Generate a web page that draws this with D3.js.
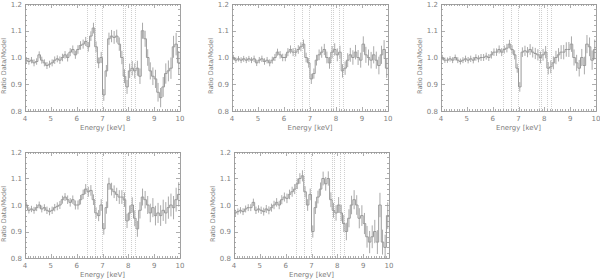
<!DOCTYPE html>
<html lang="en">
  <head>
    <meta charset="utf-8">
    <title>Ratio Data/Model</title>
    <script src="https://d3js.org/d3.v7.min.js"></script>
    <style type="text/css">
      body, html {
        margin: 0;
        padding: 0;
        background: #fff;
      }
      text {
        font-family: "DejaVu Sans", sans-serif;
        fill: #808080;
      }
    </style>
  </head>
  <body>
    <script type="text/javascript">

      var w = 600;
      var h = 279;

      // bin low edges, 0.1 keV wide, 4.0 .. 9.9
      var binLo = d3.range(40, 100).map(function(d){ return d / 10; });

      // line energies (keV) marked with dotted verticals
      var lineE = [6.4, 6.7, 6.97, 7.8, 7.88, 8.1, 8.25];

      var xTicks = [4, 5, 6, 7, 8, 9, 10];
      var yTicks = [0.8, 0.9, 1.0, 1.1, 1.2];

      var ratio1 = [0.99,0.985,0.99,0.98,0.985,1.01,0.99,0.98,0.97,0.975,
                    0.98,0.99,0.995,0.99,1.0,1.01,1.0,1.02,1.03,1.01,
                    1.03,1.045,1.05,1.06,1.04,1.08,1.11,1.04,0.98,1.0,
                    0.86,0.95,1.07,1.08,1.075,1.08,1.05,1.0,0.93,0.89,
                    0.95,0.96,0.95,0.96,0.93,1.1,1.07,1.0,0.95,0.93,
                    0.92,0.87,0.85,0.89,0.94,0.95,0.96,1.04,1.05,0.98];
      var err1 = [.012,.012,.012,.013,.012,.013,.013,.013,.013,.013,
                  .013,.014,.013,.014,.014,.014,.015,.015,.015,.015,
                  .016,.016,.017,.017,.018,.018,.02,.02,.02,.021,
                  .022,.022,.023,.023,.024,.024,.025,.025,.026,.026,
                  .027,.027,.028,.028,.029,.03,.03,.031,.032,.033,
                  .034,.035,.036,.037,.038,.039,.04,.041,.042,.044];

      var ratio2 = [1.0,0.99,0.995,0.99,0.995,0.99,0.995,0.99,0.995,0.98,
                    0.99,0.995,0.985,0.99,0.98,0.99,1.0,1.02,1.01,1.0,
                    1.0,1.02,1.03,1.02,1.02,1.03,1.04,1.05,1.0,0.98,
                    0.92,0.94,0.99,1.01,1.02,1.03,1.0,0.98,1.02,1.03,
                    1.01,1.02,0.95,0.96,0.99,1.01,1.0,1.02,1.0,0.99,
                    1.05,1.01,1.0,0.99,1.01,0.99,0.97,1.01,1.03,0.96];
      var err2 = [.01,.01,.01,.011,.011,.011,.011,.011,.012,.012,
                  .012,.012,.012,.012,.013,.013,.013,.013,.014,.014,
                  .014,.015,.015,.015,.016,.016,.017,.017,.018,.018,
                  .019,.019,.02,.02,.021,.021,.022,.022,.023,.023,
                  .024,.024,.025,.025,.026,.026,.027,.027,.028,.028,
                  .029,.03,.03,.031,.032,.032,.033,.034,.035,.036];

      var ratio3 = [1.0,0.99,0.99,0.995,0.99,1.0,0.99,0.985,0.99,0.995,
                    0.99,0.995,0.99,1.0,0.995,1.0,1.0,1.005,1.0,1.01,
                    1.02,1.02,1.03,1.02,1.03,1.035,1.05,1.03,1.01,0.96,
                    0.89,1.02,1.025,1.02,1.03,1.02,1.015,1.01,1.0,1.01,
                    1.02,0.96,0.965,0.98,1.0,1.01,1.02,1.02,1.03,1.03,
                    1.05,1.0,0.98,0.96,1.0,0.97,1.05,1.04,0.99,1.03];
      var err3 = [.01,.01,.01,.01,.011,.011,.011,.011,.011,.012,
                  .012,.012,.012,.012,.013,.013,.013,.013,.013,.014,
                  .014,.014,.015,.015,.015,.016,.016,.016,.017,.017,
                  .018,.018,.019,.019,.02,.02,.021,.021,.022,.022,
                  .023,.023,.024,.024,.025,.025,.026,.027,.027,.028,
                  .029,.03,.03,.031,.032,.033,.034,.035,.036,.037];

      var ratio4 = [1.0,0.98,0.985,0.98,0.99,1.0,0.985,0.99,0.98,0.975,
                    0.98,0.99,0.995,1.0,1.02,1.03,1.02,1.01,1.02,1.0,
                    1.0,1.02,1.04,1.06,1.05,1.055,1.02,0.97,0.96,1.0,
                    0.91,0.99,1.08,1.06,1.05,1.04,1.03,1.03,1.02,0.94,
                    0.97,1.0,0.95,0.91,0.98,1.03,1.02,1.0,0.97,0.99,
                    0.96,0.97,0.96,0.98,0.97,0.99,1.0,0.99,1.02,1.04];
      var err4 = [.012,.012,.012,.013,.013,.013,.013,.013,.014,.014,
                  .014,.014,.015,.015,.015,.015,.016,.016,.016,.017,
                  .017,.018,.018,.019,.019,.02,.02,.021,.021,.022,
                  .022,.023,.023,.024,.024,.025,.026,.026,.027,.027,
                  .028,.029,.03,.03,.031,.032,.033,.034,.035,.036,
                  .037,.038,.039,.04,.041,.042,.043,.044,.045,.046];

      var ratio5 = [0.97,0.975,0.98,0.975,0.985,0.99,0.99,1.01,0.98,0.985,
                    0.98,0.975,0.985,0.98,0.99,1.0,1.01,1.0,1.02,1.03,
                    1.025,1.04,1.05,1.06,1.08,1.1,1.11,1.05,1.0,1.04,
                    0.9,0.99,1.03,1.06,1.1,1.08,1.1,1.02,0.98,0.97,
                    1.0,0.97,0.93,0.9,0.95,1.0,1.02,1.0,0.95,0.96,
                    0.93,0.88,0.86,0.88,0.9,0.86,1.0,0.86,0.84,0.96];
      var err5 = [.012,.012,.012,.013,.013,.013,.013,.014,.014,.014,
                  .014,.015,.015,.015,.015,.016,.016,.016,.017,.017,
                  .018,.018,.019,.019,.02,.02,.021,.021,.022,.022,
                  .023,.024,.024,.025,.026,.026,.027,.028,.028,.029,
                  .03,.031,.032,.033,.034,.035,.036,.037,.038,.039,
                  .04,.041,.042,.043,.044,.045,.046,.047,.048,.05];

      // panel frames (x0, x1, y0, y1 in px)
      var panels = [
        {x0: 25,  x1: 180, y0: 4,   y1: 111, v: ratio1, e: err1},
        {x0: 232, x1: 388, y0: 4,   y1: 111, v: ratio2, e: err2},
        {x0: 441, x1: 596, y0: 4,   y1: 111, v: ratio3, e: err3},
        {x0: 25,  x1: 180, y0: 152, y1: 258, v: ratio4, e: err4},
        {x0: 234, x1: 389, y0: 152, y1: 258, v: ratio5, e: err5}
      ];

      var svg = d3.select("body")
        .append("svg")
        .attr("width", w)
        .attr("height", h);

      panels.forEach(function(p, pi){

        var x = d3.scaleLinear().domain([4, 10]).range([p.x0, p.x1]);
        var y = d3.scaleLinear().domain([0.8, 1.2]).range([p.y1, p.y0]);

        var g = svg.append("g").attr("class", "panel");

        g.append("clipPath").attr("id", "clip" + pi)
          .append("rect")
          .attr("x", p.x0).attr("y", p.y0)
          .attr("width", p.x1 - p.x0).attr("height", p.y1 - p.y0);

        // dotted line markers
        g.selectAll("line.eline")
          .data(lineE)
          .enter()
          .append("line")
          .attr("class", "eline")
          .attr("x1", function(d){ return Math.round(x(d)) + 0.5; })
          .attr("x2", function(d){ return Math.round(x(d)) + 0.5; })
          .attr("y1", p.y0).attr("y2", p.y1)
          .style("stroke", "#c4c4c4")
          .style("stroke-width", 0.8)
          .style("stroke-dasharray", "1,1");

        var data = binLo.map(function(d, i){ return {lo: d, v: p.v[i], e: p.e[i]}; });

        var dg = g.append("g").attr("clip-path", "url(#clip" + pi + ")");

        // error bars
        dg.selectAll("line.err")
          .data(data)
          .enter()
          .append("line")
          .attr("class", "err")
          .attr("x1", function(d){ return x(d.lo + 0.05); })
          .attr("x2", function(d){ return x(d.lo + 0.05); })
          .attr("y1", function(d){ return y(d.v - d.e); })
          .attr("y2", function(d){ return y(d.v + d.e); })
          .style("stroke", "#aaa")
          .style("stroke-width", 1);

        // histogram steps
        var pts = data.map(function(d){ return [d.lo, d.v]; });
        pts.push([10, data[data.length - 1].v]);

        var step = d3.line()
          .x(function(d){ return x(d[0]); })
          .y(function(d){ return y(d[1]); })
          .curve(d3.curveStepAfter);

        dg.append("path")
          .attr("d", step(pts))
          .style("fill", "none")
          .style("stroke", "#999")
          .style("stroke-width", 1);

        // frame
        g.append("rect")
          .attr("x", p.x0 + 0.5).attr("y", p.y0 + 0.5)
          .attr("width", p.x1 - p.x0).attr("height", p.y1 - p.y0)
          .style("fill", "none")
          .style("stroke", "#999")
          .style("stroke-width", 0.9);

        // ticks (inward, on all four sides)
        var xMinor = d3.range(40, 101).map(function(d){ return d / 10; });
        var yMinor = d3.range(40, 61).map(function(d){ return d / 50; });

        var tk = g.append("g").style("stroke", "#999").style("stroke-width", 0.8);

        xMinor.forEach(function(d, i){
          var len = (i % 10 === 0) ? 4 : 2;
          var xx = Math.round(x(d)) + 0.5;
          tk.append("line").attr("x1", xx).attr("x2", xx).attr("y1", p.y1).attr("y2", p.y1 - len);
          tk.append("line").attr("x1", xx).attr("x2", xx).attr("y1", p.y0).attr("y2", p.y0 + len);
        });
        yMinor.forEach(function(d, i){
          var len = (i % 5 === 0) ? 4 : 2;
          var yy = Math.round(y(d)) + 0.5;
          tk.append("line").attr("x1", p.x0).attr("x2", p.x0 + len).attr("y1", yy).attr("y2", yy);
          tk.append("line").attr("x1", p.x1).attr("x2", p.x1 - len).attr("y1", yy).attr("y2", yy);
        });

        // tick labels
        g.selectAll("text.xt")
          .data(xTicks)
          .enter()
          .append("text")
          .attr("class", "xt")
          .attr("x", function(d){ return x(d); })
          .attr("y", p.y1 + 10)
          .attr("text-anchor", "middle")
          .style("font-size", "7px")
          .text(function(d){ return d; });

        g.selectAll("text.yt")
          .data(yTicks)
          .enter()
          .append("text")
          .attr("class", "yt")
          .attr("x", p.x0 - 3)
          .attr("y", function(d){ return y(d) + 2.5; })
          .attr("text-anchor", "end")
          .style("font-size", "7px")
          .text(function(d){ return d.toFixed(1); });

        // axis titles
        g.append("text")
          .attr("x", (p.x0 + p.x1) / 2)
          .attr("y", p.y1 + 19)
          .attr("text-anchor", "middle")
          .style("font-size", "7px")
          .text("Energy [keV]");

        g.append("text")
          .attr("transform", "translate(" + (p.x0 - 19) + "," + (p.y0 + 62) + ")rotate(-90)")
          .attr("text-anchor", "middle")
          .style("font-size", "6.5px")
          .text("Ratio Data/Model");
      });

    </script>
  </body>
</html>
